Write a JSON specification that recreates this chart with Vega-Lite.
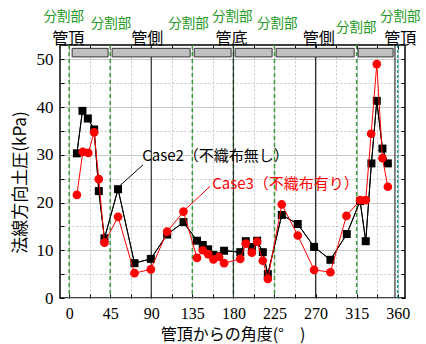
{
  "$schema": "https://vega.github.io/schema/vega-lite/v6.json",
  "width": 345,
  "height": 253,
  "autosize": {"type": "none"},
  "padding": {"left": 60, "top": 45, "right": 21, "bottom": 46},
  "background": "white",
  "config": {"view": {"stroke": "black", "strokeWidth": 1.5}, "font": "Noto Sans CJK JP"},
  "datasets": {
    "case2": [
      {"a": 8.5, "p": 30.3}, {"a": 14.6, "p": 39.2}, {"a": 20.5, "p": 37.6}, {"a": 27.4, "p": 35.3},
      {"a": 32.5, "p": 22.4}, {"a": 38.7, "p": 12.5}, {"a": 53.6, "p": 22.8}, {"a": 71.6, "p": 7.3},
      {"a": 89.5, "p": 8.2}, {"a": 107.4, "p": 13.3}, {"a": 125.3, "p": 15.9}, {"a": 140.1, "p": 12.0},
      {"a": 146.4, "p": 11.1}, {"a": 152.3, "p": 10.2}, {"a": 158.1, "p": 9.0}, {"a": 169.8, "p": 9.9},
      {"a": 187.5, "p": 9.6}, {"a": 193.6, "p": 11.9}, {"a": 200.2, "p": 10.7}, {"a": 206.0, "p": 12.0},
      {"a": 212.2, "p": 9.6}, {"a": 217.7, "p": 5.0}, {"a": 233.0, "p": 17.4}, {"a": 250.5, "p": 15.5},
      {"a": 268.4, "p": 10.7}, {"a": 286.3, "p": 8.0}, {"a": 304.2, "p": 13.4}, {"a": 318.8, "p": 20.3},
      {"a": 325.0, "p": 11.9}, {"a": 331.2, "p": 28.2}, {"a": 337.1, "p": 41.3}, {"a": 343.3, "p": 31.3},
      {"a": 349.2, "p": 28.2}
    ],
    "case3": [
      {"a": 8.5, "p": 21.6}, {"a": 15.0, "p": 30.6}, {"a": 21.0, "p": 30.4}, {"a": 27.4, "p": 34.7},
      {"a": 32.5, "p": 24.9}, {"a": 38.7, "p": 11.6}, {"a": 53.6, "p": 17.0}, {"a": 71.6, "p": 5.2},
      {"a": 89.5, "p": 6.0}, {"a": 107.4, "p": 13.9}, {"a": 125.3, "p": 18.1}, {"a": 140.1, "p": 8.4},
      {"a": 146.4, "p": 10.0}, {"a": 152.3, "p": 9.2}, {"a": 158.1, "p": 8.1}, {"a": 164.3, "p": 8.6},
      {"a": 169.8, "p": 7.3}, {"a": 187.5, "p": 8.2}, {"a": 193.6, "p": 11.4}, {"a": 200.2, "p": 9.5},
      {"a": 206.0, "p": 11.8}, {"a": 212.2, "p": 7.8}, {"a": 217.7, "p": 4.0}, {"a": 233.0, "p": 19.6},
      {"a": 250.5, "p": 13.1}, {"a": 268.4, "p": 5.9}, {"a": 286.3, "p": 5.4}, {"a": 303.8, "p": 17.2},
      {"a": 318.8, "p": 20.5}, {"a": 325.0, "p": 20.5}, {"a": 330.9, "p": 34.4}, {"a": 337.1, "p": 49.0},
      {"a": 343.3, "p": 29.3}, {"a": 349.2, "p": 23.3}
    ],
    "dividers": [{"a": 0}, {"a": 45}, {"a": 135}, {"a": 180}, {"a": 225}, {"a": 315}],
    "pipelines": [{"a": 90}, {"a": 180}, {"a": 270}, {"a": 357}],
    "endline": [{"a": 360}],
    "boxes": [
      {"a1": 3.3, "a2": 42.7}, {"a1": 47.1, "a2": 132.6}, {"a1": 137, "a2": 177.5},
      {"a1": 181.9, "a2": 222.4}, {"a1": 226.8, "a2": 312.3}, {"a1": 316.6, "a2": 355}
    ],
    "leaders": [
      {"a1": 55.5, "v1": 23.5, "a2": 81, "v2": 27.9, "s": "Case2"},
      {"a1": 127, "v1": 18.5, "a2": 154.5, "v2": 23.4, "s": "Case3"}
    ],
    "caselabels": [
      {"a": 80, "v": 29.7, "t": "Case2（不織布無し）", "s": "Case2"},
      {"a": 156.7, "v": 23.9, "t": "Case3（不織布有り）", "s": "Case3"}
    ],
    "positions": [
      {"a": -1, "v": 54.3, "t": "管頂"}, {"a": 85.5, "v": 54.3, "t": "管側"},
      {"a": 178, "v": 54.3, "t": "管底"}, {"a": 273.4, "v": 54.3, "t": "管側"},
      {"a": 362.7, "v": 54.3, "t": "管頂"}
    ],
    "divlabels": [
      {"a": -6, "v": 58.9, "t": "分割部"}, {"a": 46, "v": 57.4, "t": "分割部"},
      {"a": 130.9, "v": 57.4, "t": "分割部"}, {"a": 178.6, "v": 58.9, "t": "分割部"},
      {"a": 227.9, "v": 57.4, "t": "分割部"}, {"a": 314.5, "v": 56.6, "t": "分割部"},
      {"a": 362.7, "v": 58.9, "t": "分割部"}
    ]
  },
  "layer": [
    {
      "data": {"name": "case2"},
      "mark": {"type": "line", "color": "black", "strokeWidth": 1},
      "encoding": {
        "x": {
          "field": "a", "type": "quantitative",
          "scale": {"domain": [-10, 368], "nice": false, "zero": false},
          "axis": {
            "orient": "bottom",
            "values": [0, 22.5, 45, 67.5, 90, 112.5, 135, 157.5, 180, 202.5, 225, 247.5, 270, 292.5, 315, 337.5, 360],
            "labelExpr": "datum.value % 45 === 0 ? datum.label : ''",
            "tickSize": -4, "tickColor": "black", "labelPadding": 11,
            "labelFont": "Liberation Sans Narrow", "labelFontSize": 16, "labelColor": "black",
            "domain": false, "grid": true, "gridColor": "#c8c8c8",
            "gridDash": {"condition": {"test": "datum.value % 45 !== 0", "value": [2, 2]}, "value": []},
            "title": "管頂からの角度(°　)", "titleFont": "Noto Sans CJK JP", "titleFontSize": 16,
            "titleFontWeight": "normal", "titleColor": "black", "titleY": 36.5, "titleBaseline": "middle"
          }
        },
        "y": {
          "field": "p", "type": "quantitative",
          "scale": {"domain": [0, 53], "nice": false, "zero": true},
          "axis": {
            "orient": "left",
            "values": [0, 5, 10, 15, 20, 25, 30, 35, 40, 45, 50],
            "labelExpr": "datum.value % 10 === 0 ? datum.label : ''",
            "tickSize": -4, "tickColor": "black", "labelPadding": 11,
            "labelFont": "Liberation Sans Narrow", "labelFontSize": 17, "labelColor": "black",
            "domain": false, "grid": true, "gridColor": "#c8c8c8",
            "gridDash": {"condition": {"test": "datum.value % 10 !== 0", "value": [2, 2]}, "value": []},
            "title": "法線方向土圧(kPa)", "titleFont": "Noto Sans CJK JP", "titleFontSize": 17,
            "titleFontWeight": "normal", "titleColor": "black", "titleX": -40, "titleY": 137,
            "titleBaseline": "middle"
          }
        }
      }
    },
    {
      "data": {"name": "dividers"},
      "mark": {"type": "rule", "color": "#3a9a3a", "strokeWidth": 1.5, "strokeDash": [4, 3]},
      "encoding": {"x": {"field": "a", "type": "quantitative", "axis": null}}
    },
    {
      "data": {"name": "pipelines"},
      "mark": {"type": "rule", "color": "#333333", "strokeWidth": 1.2},
      "encoding": {"x": {"field": "a", "type": "quantitative", "axis": null}}
    },
    {
      "data": {"name": "endline"},
      "mark": {"type": "rule", "color": "#1f9a9a", "strokeWidth": 1.5, "strokeDash": [3, 2]},
      "encoding": {"x": {"field": "a", "type": "quantitative", "axis": null}}
    },
    {
      "data": {"name": "boxes"},
      "mark": {"type": "rect", "fill": "#c0c0c0", "stroke": "#333333", "strokeWidth": 1},
      "encoding": {
        "x": {"field": "a1", "type": "quantitative", "axis": null},
        "x2": {"field": "a2"},
        "y": {"datum": 50.5, "type": "quantitative", "axis": null},
        "y2": {"datum": 52.3}
      }
    },
    {
      "data": {"name": "case2"},
      "mark": {"type": "line", "color": "black", "strokeWidth": 1, "point": {"shape": "square", "filled": true, "size": 64, "color": "black"}},
      "encoding": {
        "x": {"field": "a", "type": "quantitative", "axis": null},
        "y": {"field": "p", "type": "quantitative", "axis": null}
      }
    },
    {
      "data": {"name": "case3"},
      "mark": {"type": "line", "color": "#ff0000", "strokeWidth": 1, "point": {"shape": "circle", "filled": true, "size": 75, "color": "#ff0000"}},
      "encoding": {
        "x": {
          "field": "a", "type": "quantitative",
          "axis": {
            "orient": "top",
            "values": [0, 22.5, 45, 67.5, 90, 112.5, 135, 157.5, 180, 202.5, 225, 247.5, 270, 292.5, 315, 337.5, 360],
            "labels": false, "tickSize": -4, "tickColor": "black", "domain": false, "grid": false, "title": null
          }
        },
        "y": {
          "field": "p", "type": "quantitative",
          "axis": {
            "orient": "right",
            "values": [0, 5, 10, 15, 20, 25, 30, 35, 40, 45, 50],
            "labels": false, "tickSize": -4, "tickColor": "black", "domain": false, "grid": false, "title": null
          }
        }
      }
    },
    {
      "data": {"name": "leaders"},
      "mark": {"type": "rule", "strokeWidth": 1},
      "encoding": {
        "x": {"field": "a1", "type": "quantitative", "axis": null},
        "y": {"field": "v1", "type": "quantitative", "axis": null},
        "x2": {"field": "a2"},
        "y2": {"field": "v2"},
        "color": {"field": "s", "type": "nominal", "scale": {"domain": ["Case2", "Case3"], "range": ["black", "#ff0000"]}, "legend": null}
      }
    },
    {
      "data": {"name": "caselabels"},
      "mark": {"type": "text", "align": "left", "baseline": "middle", "fontSize": 15, "font": "Noto Sans CJK JP"},
      "encoding": {
        "x": {"field": "a", "type": "quantitative", "axis": null},
        "y": {"field": "v", "type": "quantitative", "axis": null},
        "text": {"field": "t"},
        "color": {"field": "s", "type": "nominal", "scale": {"domain": ["Case2", "Case3"], "range": ["black", "#ff0000"]}, "legend": null}
      }
    },
    {
      "data": {"name": "positions"},
      "mark": {"type": "text", "align": "center", "baseline": "middle", "fontSize": 16, "font": "Noto Sans CJK JP", "color": "black"},
      "encoding": {
        "x": {"field": "a", "type": "quantitative", "axis": null},
        "y": {"field": "v", "type": "quantitative", "axis": null},
        "text": {"field": "t"}
      }
    },
    {
      "data": {"name": "divlabels"},
      "mark": {"type": "text", "align": "center", "baseline": "middle", "fontSize": 13.5, "font": "Noto Sans CJK JP", "color": "#229922"},
      "encoding": {
        "x": {"field": "a", "type": "quantitative", "axis": null},
        "y": {"field": "v", "type": "quantitative", "axis": null},
        "text": {"field": "t"}
      }
    }
  ],
  "resolve": {"axis": {"x": "independent", "y": "independent"}}
}
